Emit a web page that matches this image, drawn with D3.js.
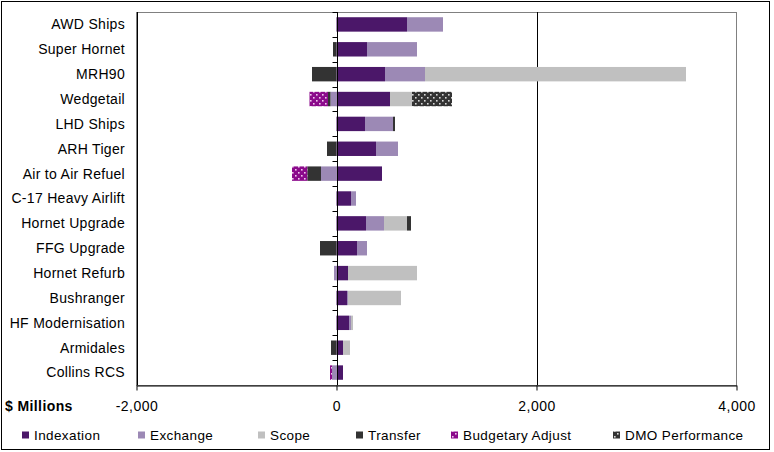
<!DOCTYPE html>
<html>
<head>
<meta charset="utf-8">
<script src="https://cdn.jsdelivr.net/npm/d3@7"></script>
<style>
  body { margin: 0; background: #fff; }
  svg { font-family: "Liberation Sans", Arial, sans-serif; }
</style>
</head>
<body>
<div id="chart"></div>
<script>
const categories = ["AWD Ships", "Super Hornet", "MRH90", "Wedgetail", "LHD Ships", "ARH Tiger",
  "Air to Air Refuel", "C-17 Heavy Airlift", "Hornet Upgrade", "FFG Upgrade", "Hornet Refurb",
  "Bushranger", "HF Modernisation", "Armidales", "Collins RCS"];

const seriesNames = ["Indexation", "Exchange", "Scope", "Transfer", "Budgetary Adjust", "DMO Performance"];

// $ millions
const indexation = [705, 305, 485, 535, 285, 395, 455, 145, 295, 205, 115, 105, 125, 65, 65];
const exchange   = [360, 500, 400, -60, 280, 220, -155, 50, 180, 100, -25, 10, 20, 0, -45];
const scope      = [0, 0, 2610, 220, 0, 0, 0, 0, 230, 0, 690, 530, 20, 70, 0];
const transfer   = [0, -35, -245, -25, 20, -95, -137, 0, 40, -165, 0, 0, 0, -55, 0];
const budgetary  = [0, 0, 0, -185, 0, 0, -153, 0, 0, 0, 0, 0, 0, 0, -20];
const dmo        = [0, 0, 0, 400, 0, 0, 0, 0, 0, 0, 0, 0, 0, 0, 0];

const xTicks = [-2000, 0, 2000, 4000];

const colors = ["#4b1769", "#9c89b5", "#c0c0c0", "#333333", "url(#budg)", "url(#dmo)"];

const width = 774, height = 452;
const mLeft = 136.5, mRight = 736.5, mTop = 12, mBottom = 385;

const table = categories.map((c, i) => ({
  name: c,
  "Indexation": indexation[i],
  "Exchange": exchange[i],
  "Scope": scope[i],
  "Transfer": transfer[i],
  "Budgetary Adjust": budgetary[i],
  "DMO Performance": dmo[i]
}));

const stack = d3.stack().keys(seriesNames).offset(d3.stackOffsetDiverging);
const layers = stack(table);

const x = d3.scaleLinear([-2000, 4000], [mLeft, mRight]);
const y = d3.scaleBand(categories, [mTop, mBottom]).paddingInner(0.42).paddingOuter(0.21);
const yLine = d3.scaleBand(categories, [mTop, mBottom]);

const svg = d3.select("#chart").append("svg")
    .attr("width", width)
    .attr("height", height);

const defs = svg.append("defs");
function dots(id, bg, fg) {
  const p = defs.append("pattern")
      .attr("id", id)
      .attr("patternUnits", "userSpaceOnUse")
      .attr("width", 6).attr("height", 6);
  p.append("rect").attr("width", 6).attr("height", 6).attr("fill", bg);
  p.append("rect").attr("x", 1).attr("y", 1).attr("width", 1.6).attr("height", 1.6).attr("fill", fg);
  p.append("rect").attr("x", 4).attr("y", 4).attr("width", 1.6).attr("height", 1.6).attr("fill", fg);
}
dots("budg", "#8b0a8b", "#f0c8f0");
dots("dmo", "#333333", "#d8d8d8");

// outer frame
svg.append("rect")
    .attr("x", 1.5).attr("y", 1.5)
    .attr("width", 768).attr("height", 448)
    .attr("fill", "none").attr("stroke", "#000");

// plot area border
svg.append("rect")
    .attr("x", mLeft).attr("y", mTop + 0.5)
    .attr("width", mRight - mLeft).attr("height", mBottom - mTop)
    .attr("fill", "none").attr("stroke", "#808080");

// gridlines
svg.append("g")
  .selectAll("line")
  .data([-2000, 2000])
  .join("line")
    .attr("x1", d => Math.round(x(d)) + 0.5)
    .attr("x2", d => Math.round(x(d)) + 0.5)
    .attr("y1", mTop)
    .attr("y2", mBottom)
    .attr("stroke", "#000");

// bars
svg.append("g")
  .selectAll("g")
  .data(layers)
  .join("g")
    .attr("fill", (d, i) => colors[i])
  .selectAll("rect")
  .data(d => d)
  .join("rect")
    .attr("x", d => x(Math.min(d[0], d[1])))
    .attr("y", d => y(d.data.name))
    .attr("width", d => Math.abs(x(d[1]) - x(d[0])))
    .attr("height", y.bandwidth());

// category axis at zero
const zx = Math.round(x(0)) + 0.5;
svg.append("g")
    .attr("transform", `translate(${zx},0)`)
    .call(g => g.append("line")
        .attr("y1", mTop).attr("y2", mBottom)
        .attr("stroke", "#000"))
    .call(g => g.selectAll("line.tk")
      .data(categories)
      .join("line")
        .attr("class", "tk")
        .attr("x1", -5).attr("x2", 0)
        .attr("y1", d => Math.round(yLine(d)) + 0.5)
        .attr("y2", d => Math.round(yLine(d)) + 0.5)
        .attr("stroke", "#000"));

// category labels
svg.append("g")
  .selectAll("text")
  .data(categories)
  .join("text")
    .attr("x", 125)
    .attr("y", d => yLine(d) + yLine.bandwidth() / 2)
    .attr("dy", "0.35em")
    .attr("text-anchor", "end")
    .attr("font-size", 14)
    .attr("letter-spacing", 0.3)
    .text(d => d);

// value axis
const fmt = d3.format(",");
const xAxis = d3.axisBottom(x)
    .tickValues(xTicks)
    .tickFormat(d => fmt(d).replace("\u2212", "-"))
    .tickSize(5)
    .tickSizeOuter(0)
    .tickPadding(11);

svg.append("g")
    .attr("transform", `translate(0,${mBottom + 0.5})`)
    .call(xAxis)
    .call(g => g.select(".domain").attr("stroke", "#000"))
    .call(g => g.selectAll("text").attr("font-size", 14).attr("fill", "#000")
        .attr("letter-spacing", 0.5)
        .attr("font-family", "Liberation Sans, Arial, sans-serif"));

svg.append("text")
    .attr("x", 5)
    .attr("y", 411)
    .attr("font-size", 14)
    .attr("letter-spacing", 0.4)
    .attr("font-weight", "bold")
    .text("$ Millions");

// legend
const legendX = [22, 138, 258, 356, 451, 613];
const legend = svg.append("g")
  .selectAll("g")
  .data(seriesNames)
  .join("g")
    .attr("transform", (d, i) => `translate(${legendX[i]},435)`);

legend.append("rect")
    .attr("x", 0).attr("y", -3.5)
    .attr("width", 7).attr("height", 7)
    .attr("fill", (d, i) => colors[i]);

legend.append("text")
    .attr("x", 12)
    .attr("dy", "0.35em")
    .attr("font-size", 13.5)
    .attr("letter-spacing", 0.4)
    .text(d => d);
</script>
</body>
</html>
